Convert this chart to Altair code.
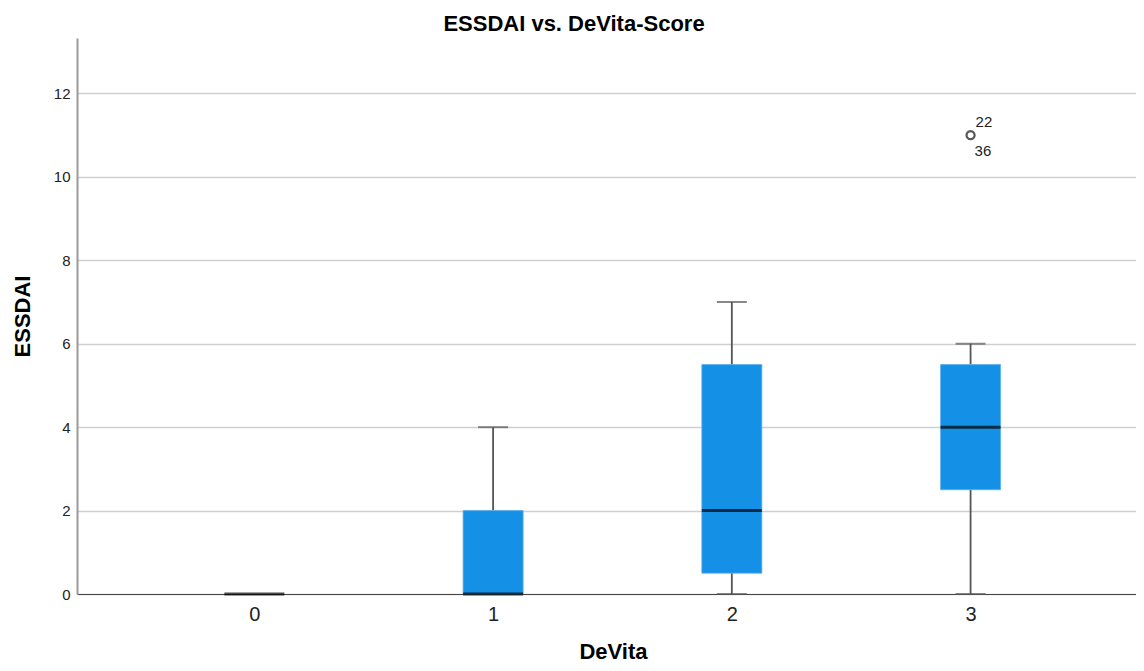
import altair as alt
import pandas as pd

# --- data ---
categories = [0, 1, 2, 3]
lower_whisker = [0, 0, 0, 0]
q1 = [0, 0, 0.5, 2.5]
median = [0, 0, 2, 4]
q3 = [0, 2, 5.5, 5.5]
upper_whisker = [0, 4, 7, 6]

outlier_category = [3]
outlier_value = [11]
outlier_labels = ["22", "36"]

x_ticks = [0, 1, 2, 3]
y_ticks = [0, 2, 4, 6, 8, 10, 12]

TITLE = "ESSDAI vs. DeVita-Score"
FONT = "Liberation Sans"
BOX = "#1490e6"

box_df = pd.DataFrame({
    "DeVita": categories, "lw": lower_whisker, "q1": q1,
    "med": median, "q3": q3, "uw": upper_whisker,
})
out_df = pd.DataFrame({"DeVita": outlier_category, "v": outlier_value})
lab_df = pd.DataFrame({
    "DeVita": outlier_category * 2,
    "v": outlier_value * 2,
    "label": outlier_labels,
    "pos": ["above", "below"],
})
title_df = pd.DataFrame({"t": [TITLE]})

W, H = 1059, 556
xscale = alt.Scale(domain=[-0.722, 3.672], nice=False, zero=False)
yscale = alt.Scale(domain=[0, 13.33], nice=False)

xenc = alt.X("DeVita:Q", scale=xscale, title="DeVita",
             axis=alt.Axis(values=x_ticks, format="d", grid=False, ticks=False,
                           labelFontSize=20, labelFont=FONT, labelColor="#222",
                           labelPadding=10, domainColor="#444", domainWidth=1.2,
                           titleFont=FONT, titleFontSize=22, titleFontWeight="bold",
                           titleColor="#000", titleX=536, titleY=64,
                           titleAlign="center", titleBaseline="alphabetic"))

yaxis = alt.Axis(values=y_ticks, grid=True, gridColor="#cfcfcf", gridWidth=1.5,
                 ticks=False, labelFontSize=15, labelFont=FONT, labelColor="#222",
                 labelPadding=7, domainColor="#9a9a9a", domainWidth=2,
                 titleFont=FONT, titleFontSize=22, titleFontWeight="bold",
                 titleColor="#000", titleAngle=-90, titleX=-55, titleY=278,
                 titleAlign="center", titleBaseline="middle")

base = alt.Chart(box_df)

upper_whisk = base.transform_filter("datum.uw > datum.q3").mark_rule(
    color="#555", strokeWidth=1.8).encode(
    x=xenc, y=alt.Y("q3:Q", scale=yscale, axis=yaxis, title="ESSDAI"), y2="uw:Q")
lower_whisk = base.transform_filter("datum.lw < datum.q1").mark_rule(
    color="#555", strokeWidth=1.8).encode(
    x="DeVita:Q", y="lw:Q", y2="q1:Q")
upper_cap = base.transform_filter("datum.uw > datum.q3").mark_tick(
    color="#555", size=30, thickness=2, orient="horizontal").encode(
    x="DeVita:Q", y="uw:Q")
lower_cap = base.transform_filter("datum.lw < datum.q1").mark_tick(
    color="#555", size=30, thickness=2, orient="horizontal").encode(
    x="DeVita:Q", y="lw:Q")
boxes = base.transform_filter("datum.q3 > datum.q1").mark_bar(
    color=BOX, size=60, orient="vertical", stroke="#5aaef0", strokeWidth=0.8).encode(
    x="DeVita:Q", y="q1:Q", y2="q3:Q")
medians = base.mark_tick(color="#000", size=60, thickness=3,
                         orient="horizontal").encode(x="DeVita:Q", y="med:Q")
outliers = alt.Chart(out_df).mark_point(
    shape="circle", filled=False, color="#111", strokeWidth=2.2, size=65).encode(
    x="DeVita:Q", y="v:Q")
lab_above = alt.Chart(lab_df).transform_filter("datum.pos == 'above'").mark_text(
    align="left", baseline="alphabetic", dx=5, dy=-8, font=FONT, fontSize=15,
    color="#222").encode(x="DeVita:Q", y="v:Q", text="label:N")
lab_below = alt.Chart(lab_df).transform_filter("datum.pos == 'below'").mark_text(
    align="left", baseline="alphabetic", dx=4, dy=21, font=FONT, fontSize=15,
    color="#222").encode(x="DeVita:Q", y="v:Q", text="label:N")
title_mark = alt.Chart(title_df).mark_text(
    align="center", baseline="alphabetic", font=FONT, fontSize=22,
    fontWeight="bold", color="#000").encode(
    text="t:N", x=alt.value(497), y=alt.value(-7))

chart = alt.layer(
    upper_whisk, lower_whisk, upper_cap, lower_cap, boxes, medians,
    outliers, lab_above, lab_below, title_mark,
).properties(
    width=W, height=H,
    autosize=alt.AutoSizeParams(type="none"),
    padding={"left": 69, "top": 30, "right": 0, "bottom": 69},
    background="white",
).configure_view(stroke=None)

chart.save("out.html", embed_options={"renderer": "svg", "actions": False})
